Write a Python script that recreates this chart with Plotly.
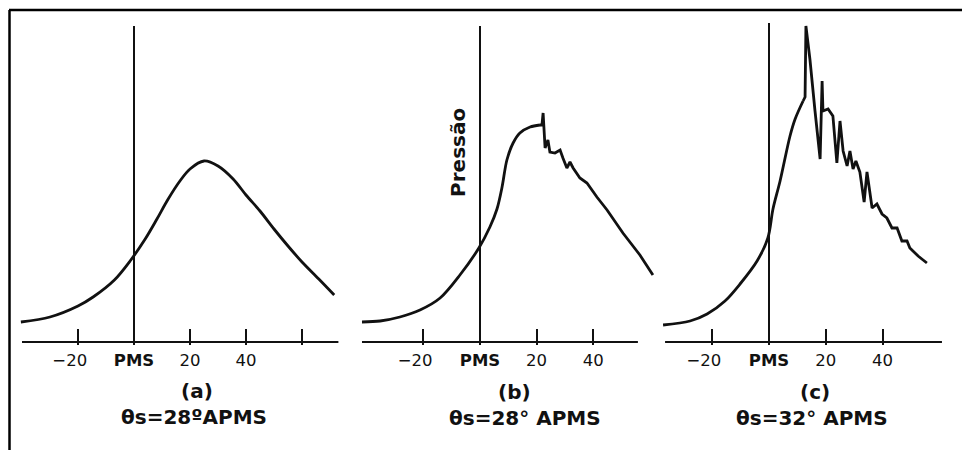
import plotly.graph_objects as go

# ---------------- data (crank angle in degrees, pressure in arbitrary units) ----------------
a_theta = [-40.4, -30, -20, -14.6, -7, -1.4, 4, 8.2, 12, 16.4, 20, 25, 30, 35.4, 40, 45, 50, 55, 60, 66, 71.5]
a_pressure = [20, 25, 36, 45, 62, 81, 103, 123, 142, 161, 173, 181, 176, 163, 147, 131, 113, 96, 80, 63, 47]

b_theta = [-41.7, -35.3, -28.3, -21.2, -14.1, -7.1, -0.4, 3.5, 6.0, 7.8, 9.5, 11.7, 14.1, 17.7, 21.2,
           21.9, 22.3, 22.6, 23.0, 24.0, 24.7, 26.5, 28.3, 29.3, 30.7, 31.8, 32.9, 35.3, 37.8, 41.3,
           44.9, 50.5, 56.5, 61.1]
b_pressure = [20, 21, 25, 32, 44, 67, 94, 115, 133, 155, 182, 199, 209, 215, 217,
              217, 229, 214, 194, 202, 190, 189, 192, 184, 174, 180, 174, 164, 159, 145,
              132, 109, 87, 67]
b_smooth_end = 14  # index where the smooth rise ends and the knocking oscillation begins

c_theta = [-37.3, -27.8, -21.8, -15.5, -10.2, -4.2, -0.4, 1.4, 3.9, 7.4, 9.2, 12.0, 12.7, 13.0,
           14.4, 16.2, 18.0, 18.7, 19.0, 20.8, 22.5, 23.9, 25.0, 26.1, 27.5, 28.5, 29.6, 30.6,
           32.0, 33.5, 34.5, 36.3, 38.0, 39.8, 41.5, 43.3, 45.1, 46.8, 48.6, 49.6, 52.5, 55.6]
c_pressure = [17, 21, 28, 41, 58, 81, 104, 133, 161, 206, 223, 241, 245, 316,
              283, 231, 183, 261, 231, 233, 226, 179, 221, 191, 176, 191, 173, 181,
              170, 140, 170, 134, 138, 128, 124, 114, 114, 101, 101, 94, 86, 79]
c_smooth_end = 11

# axis baselines (extent of drawn horizontal axis in degrees)
a_axis = [-40, 73]
b_axis = [-41.7, 55.8]
c_axis = [-36.6, 60.9]

# PMS (TDC) vertical line heights
pms_top = [316, 316, 319]

a_tickvals = [-20, 0, 20, 40, 60]
a_ticktext = ["\u221220\u2003", "<b>PMS</b>", "20", "40", ""]
bc_tickvals = [-20, 0, 20, 40]
bc_ticktext = ["\u221220\u2003", "<b>PMS</b>", "20", "40"]

panel_labels = ["(a)", "(b)", "(c)"]
panel_captions = ["\u03b8s=28\u00baAPMS", "\u03b8s=28\u00b0 APMS", "\u03b8s=32\u00b0 APMS"]
y_label = "Pressão"

# ---------------- layout geometry ----------------
W, H = 962, 450
FONT = "DejaVu Sans"
INK = "#111111"

def px_x(p):
    return p / W

def px_y(p):
    return 1 - p / H

panels = [
    dict(dom=(16, 342), rng=[(16 - 134) / 2.8, (342 - 134) / 2.8]),
    dict(dom=(358, 658), rng=[(358 - 480) / 2.83, (658 - 480) / 2.83]),
    dict(dom=(660, 946), rng=[(660 - 769) / 2.84, (946 - 769) / 2.84]),
]
y_dom = [px_y(345), px_y(20)]
y_rng = [-3, 322]

segments = [
    [(a_theta, a_pressure, "spline")],
    [(b_theta[:b_smooth_end + 1], b_pressure[:b_smooth_end + 1], "spline"),
     (b_theta[b_smooth_end:], b_pressure[b_smooth_end:], "linear")],
    [(c_theta[:c_smooth_end + 1], c_pressure[:c_smooth_end + 1], "spline"),
     (c_theta[c_smooth_end:], c_pressure[c_smooth_end:], "linear")],
]
axes_ext = [a_axis, b_axis, c_axis]

fig = go.Figure()
for i, segs in enumerate(segments):
    sfx = "" if i == 0 else str(i + 1)
    xa, ya = "x" + sfx, "y" + sfx
    fig.add_trace(go.Scatter(x=axes_ext[i], y=[0, 0], mode="lines",
                             line=dict(color=INK, width=2), xaxis=xa, yaxis=ya, hoverinfo="skip"))
    fig.add_trace(go.Scatter(x=[0, 0], y=[0, pms_top[i]], mode="lines",
                             line=dict(color=INK, width=2), xaxis=xa, yaxis=ya, hoverinfo="skip"))
    for th, pr, shape in segs:
        fig.add_trace(go.Scatter(x=th, y=pr, mode="lines",
                                 line=dict(color=INK, width=2.8, shape=shape, smoothing=0.9),
                                 xaxis=xa, yaxis=ya))

    tv = a_tickvals if i == 0 else bc_tickvals
    tt = a_ticktext if i == 0 else bc_ticktext
    fig.update_layout(**{
        ("xaxis" + sfx): dict(domain=[px_x(panels[i]["dom"][0]), px_x(panels[i]["dom"][1])],
                              range=panels[i]["rng"], anchor=ya, showgrid=False, zeroline=False,
                              showline=False, ticks="inside", ticklen=16, tickwidth=2,
                              tickcolor=INK, tickvals=tv, ticktext=tt, ticklabelstandoff=3,
                              tickfont=dict(family=FONT, size=16.5, color=INK)),
        ("yaxis" + sfx): dict(domain=y_dom, range=y_rng, anchor=xa, visible=False),
    })

annotations = []
label_pos = [(197, 391), (514, 392), (815, 392)]
caption_pos = [(194, 417), (525, 418), (812, 418)]
for i in range(3):
    annotations.append(dict(text="<b>%s</b>" % panel_labels[i], x=px_x(label_pos[i][0]), y=px_y(label_pos[i][1]),
                            xref="paper", yref="paper", showarrow=False, xanchor="center", yanchor="middle",
                            font=dict(family=FONT, size=20, color=INK)))
    annotations.append(dict(text="<b>%s</b>" % panel_captions[i], x=px_x(caption_pos[i][0]), y=px_y(caption_pos[i][1]),
                            xref="paper", yref="paper", showarrow=False, xanchor="center", yanchor="middle",
                            font=dict(family=FONT, size=20, color=INK)))
annotations.append(dict(text="<b>%s</b>" % y_label, x=-7.8, y=190, xref="x2", yref="y2",
                        textangle=-90, showarrow=False, xanchor="center", yanchor="middle",
                        font=dict(family=FONT, size=20, color=INK)))

shapes = [
    dict(type="line", xref="paper", yref="paper", x0=px_x(9), x1=1.02, y0=px_y(10), y1=px_y(10),
         line=dict(color="black", width=2.5)),
    dict(type="line", xref="paper", yref="paper", x0=px_x(9.5), x1=px_x(9.5), y0=px_y(10), y1=-0.02,
         line=dict(color="black", width=2.5)),
]

fig.update_layout(width=W, height=H, margin=dict(l=0, r=0, t=0, b=0),
                  paper_bgcolor="white", plot_bgcolor="white", showlegend=False,
                  annotations=annotations, shapes=shapes)

fig.write_html("out.html", config={"displayModeBar": False},
               post_script="document.body.style.margin='0';document.body.style.overflow='hidden';")
